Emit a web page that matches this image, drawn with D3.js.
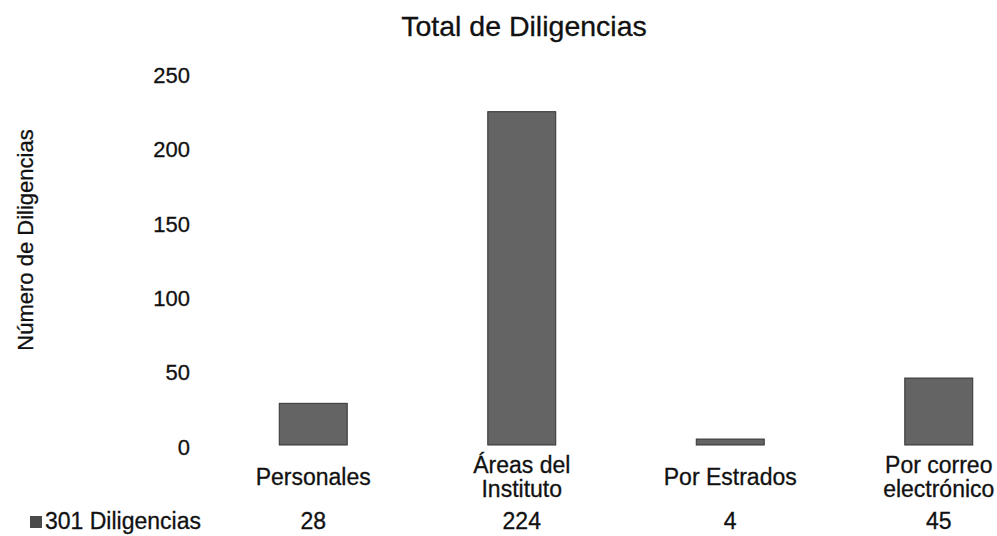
<!DOCTYPE html>
<html lang="es">
<head>
  <meta charset="UTF-8">
  <title>Total de Diligencias</title>
  <script src="https://d3js.org/d3.v7.min.js"></script>
  <style>
    body { margin: 0; background: #fff; }
    svg { display: block; }
    text { font-family: "Liberation Sans", Arial, sans-serif; fill: #111; stroke: #111; stroke-width: 0.3px; }
    .tick-label { font-size: 22px; }
    .cat-label { font-size: 23px; }
    .title { font-size: 28.5px; }
  </style>
</head>
<body>
  <script>
    const categories = [["Personales"], ["Áreas del", "Instituto"], ["Por Estrados"], ["Por correo", "electrónico"]];
    const values = [28, 224, 4, 45];
    const seriesName = "301 Diligencias";
    const yTicks = [0, 50, 100, 150, 200, 250];

    const width = 997, height = 536;
    const svg = d3.select("body").append("svg")
      .attr("width", width)
      .attr("height", height);

    const keys = categories.map(c => c.join(" "));

    const x = d3.scaleBand()
      .domain(keys)
      .range([209, 1043])
      .paddingInner(0.674)
      .paddingOuter(0.337);

    const y = d3.scaleLinear()
      .domain([0, 250])
      .range([445, 73]);

    const cx = i => x(keys[i]) + x.bandwidth() / 2;

    // title
    svg.append("text")
      .attr("class", "title")
      .attr("x", 524)
      .attr("y", 36)
      .attr("text-anchor", "middle")
      .text("Total de Diligencias");

    // y axis label
    svg.append("text")
      .attr("transform", "translate(33,240) rotate(-90)")
      .attr("text-anchor", "middle")
      .style("font-size", "22px")
      .text("Número de Diligencias");

    // tick labels
    svg.append("g")
      .selectAll("text")
      .data(yTicks)
      .join("text")
      .attr("class", "tick-label")
      .attr("x", 190)
      .attr("y", d => y(d) + 2)
      .attr("dy", "0.35em")
      .attr("text-anchor", "end")
      .text(d => d);

    // bars
    svg.append("g")
      .selectAll("rect")
      .data(values)
      .join("rect")
      .attr("x", (d, i) => x(keys[i]))
      .attr("y", d => y(d))
      .attr("width", x.bandwidth())
      .attr("height", d => y(0) - y(d))
      .attr("fill", "#646464")
      .attr("stroke", "#333")
      .attr("stroke-width", 1);

    // category labels
    const cat = svg.append("g")
      .selectAll("text")
      .data(categories)
      .join("text")
      .attr("class", "cat-label")
      .attr("text-anchor", "middle")
      .attr("x", (d, i) => cx(i))
      .attr("y", d => d.length > 1 ? 473 : 485);
    cat.selectAll("tspan")
      .data(d => d)
      .join("tspan")
      .attr("x", function () { return d3.select(this.parentNode).attr("x"); })
      .attr("dy", (d, i) => i === 0 ? 0 : 24)
      .text(d => d);

    // data table row
    svg.append("rect")
      .attr("x", 30)
      .attr("y", 516)
      .attr("width", 12)
      .attr("height", 12)
      .attr("fill", "#4a4a4a");

    svg.append("text")
      .attr("class", "cat-label")
      .attr("x", 45)
      .attr("y", 529)
      .text(seriesName);

    svg.append("g")
      .selectAll("text")
      .data(values)
      .join("text")
      .attr("class", "cat-label")
      .attr("text-anchor", "middle")
      .attr("x", (d, i) => cx(i))
      .attr("y", 529)
      .text(d => d);
  </script>
</body>
</html>
